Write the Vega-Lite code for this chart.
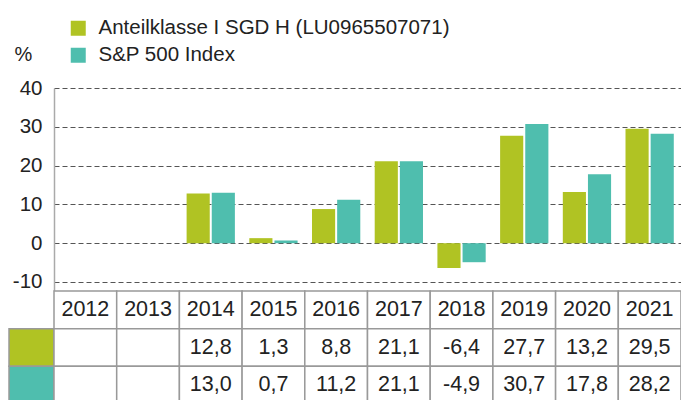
{
  "$schema": "https://vega.github.io/schema/vega-lite/v6.json",
  "padding": {"left": 8, "top": 4, "right": 0, "bottom": 0},
  "bounds": "flush",
  "columns": 2,
  "spacing": 0,
  "datasets": {
    "returns": [
      {"year": "2012", "series": "Anteilklasse I SGD H (LU0965507071)", "value": null},
      {"year": "2012", "series": "S&P 500 Index", "value": null},
      {"year": "2013", "series": "Anteilklasse I SGD H (LU0965507071)", "value": null},
      {"year": "2013", "series": "S&P 500 Index", "value": null},
      {"year": "2014", "series": "Anteilklasse I SGD H (LU0965507071)", "value": 12.8},
      {"year": "2014", "series": "S&P 500 Index", "value": 13.0},
      {"year": "2015", "series": "Anteilklasse I SGD H (LU0965507071)", "value": 1.3},
      {"year": "2015", "series": "S&P 500 Index", "value": 0.7},
      {"year": "2016", "series": "Anteilklasse I SGD H (LU0965507071)", "value": 8.8},
      {"year": "2016", "series": "S&P 500 Index", "value": 11.2},
      {"year": "2017", "series": "Anteilklasse I SGD H (LU0965507071)", "value": 21.1},
      {"year": "2017", "series": "S&P 500 Index", "value": 21.1},
      {"year": "2018", "series": "Anteilklasse I SGD H (LU0965507071)", "value": -6.4},
      {"year": "2018", "series": "S&P 500 Index", "value": -4.9},
      {"year": "2019", "series": "Anteilklasse I SGD H (LU0965507071)", "value": 27.7},
      {"year": "2019", "series": "S&P 500 Index", "value": 30.7},
      {"year": "2020", "series": "Anteilklasse I SGD H (LU0965507071)", "value": 13.2},
      {"year": "2020", "series": "S&P 500 Index", "value": 17.8},
      {"year": "2021", "series": "Anteilklasse I SGD H (LU0965507071)", "value": 29.5},
      {"year": "2021", "series": "S&P 500 Index", "value": 28.2}
    ],
    "years": [
      {"year": "2012"}, {"year": "2013"}, {"year": "2014"}, {"year": "2015"}, {"year": "2016"},
      {"year": "2017"}, {"year": "2018"}, {"year": "2019"}, {"year": "2020"}, {"year": "2021"}
    ],
    "series": [
      {"series": "Anteilklasse I SGD H (LU0965507071)"},
      {"series": "S&P 500 Index"}
    ]
  },
  "concat": [
    {
      "width": 45,
      "height": 10,
      "data": {"name": "series"},
      "mark": {"type": "point", "opacity": 0},
      "encoding": {}
    },
    {
      "width": 627,
      "height": 203,
      "data": {"name": "returns"},
      "transform": [{"filter": "isValid(datum.value)"}],
      "mark": {"type": "bar"},
      "encoding": {
        "x": {
          "field": "year", "type": "nominal",
          "scale": {"domain": ["2012","2013","2014","2015","2016","2017","2018","2019","2020","2021"], "paddingInner": 0.23, "paddingOuter": 0.115},
          "axis": null
        },
        "xOffset": {
          "field": "series", "type": "nominal",
          "scale": {"domain": ["Anteilklasse I SGD H (LU0965507071)", "S&P 500 Index"], "paddingInner": 0.08, "paddingOuter": 0}
        },
        "y": {
          "field": "value", "type": "quantitative",
          "scale": {"domain": [-12.32, 40], "nice": false, "zero": false},
          "axis": {
            "values": [-10, 0, 10, 20, 30, 40],
            "title": "%",
            "titleAngle": 0,
            "titleX": -40,
            "titleY": -34,
            "titleAlign": "left",
            "titleBaseline": "middle",
            "titleFontSize": 20,
            "titleFontWeight": "normal",
            "titleColor": "#222",
            "labelFontSize": 20.5,
            "labelColor": "#222",
            "labelPadding": 12,
            "ticks": false,
            "domainColor": "#aaa",
            "domainWidth": 1.5,
            "grid": true,
            "gridColor": "#555",
            "gridDash": [5, 3],
            "gridWidth": 1
          }
        },
        "color": {
          "field": "series", "type": "nominal",
          "scale": {"domain": ["Anteilklasse I SGD H (LU0965507071)", "S&P 500 Index"], "range": ["#b0c323", "#4fbeae"]},
          "legend": {
            "orient": "top",
            "direction": "vertical",
            "title": null,
            "symbolType": "square",
            "symbolSize": 225,
            "symbolStrokeWidth": 0,
            "labelFontSize": 20.5,
            "labelColor": "#222",
            "labelLimit": 0,
            "labelOffset": 10,
            "rowPadding": 6,
            "padding": 14,
            "offset": 8
          }
        }
      }
    },
    {
      "width": 45,
      "height": 113,
      "data": {"name": "series"},
      "mark": {"type": "rect", "stroke": "#999", "strokeWidth": 1.5},
      "encoding": {
        "y": {
          "field": "series", "type": "nominal",
          "scale": {"domain": ["Jahr", "Anteilklasse I SGD H (LU0965507071)", "S&P 500 Index"], "padding": 0},
          "axis": null
        },
        "color": {
          "field": "series", "type": "nominal",
          "scale": {"domain": ["Anteilklasse I SGD H (LU0965507071)", "S&P 500 Index"], "range": ["#b0c323", "#4fbeae"]},
          "legend": null
        }
      }
    },
    {
      "width": 627,
      "height": 113,
      "encoding": {
        "x": {
          "field": "year", "type": "nominal",
          "scale": {"domain": ["2012","2013","2014","2015","2016","2017","2018","2019","2020","2021"], "padding": 0},
          "axis": null
        }
      },
      "layer": [
        {
          "data": {"name": "years"},
          "mark": {"type": "rect", "fill": "white", "stroke": "#999", "strokeWidth": 1.5},
          "encoding": {
            "y": {"datum": "Jahr", "type": "nominal", "scale": {"domain": ["Jahr", "Anteilklasse I SGD H (LU0965507071)", "S&P 500 Index"], "padding": 0}, "axis": null}
          }
        },
        {
          "data": {"name": "returns"},
          "mark": {"type": "rect", "fill": "white", "stroke": "#999", "strokeWidth": 1.5},
          "encoding": {
            "y": {"field": "series", "type": "nominal", "axis": null}
          }
        },
        {
          "data": {"name": "years"},
          "mark": {"type": "text", "fontSize": 21.5, "color": "#222", "baseline": "middle", "align": "center"},
          "encoding": {
            "y": {"datum": "Jahr", "type": "nominal", "axis": null},
            "text": {"field": "year"}
          }
        },
        {
          "data": {"name": "returns"},
          "transform": [{"filter": "isValid(datum.value)"}],
          "mark": {"type": "text", "fontSize": 21.5, "color": "#222", "baseline": "middle", "align": "center"},
          "encoding": {
            "y": {"field": "series", "type": "nominal", "axis": null},
            "text": {"field": "value", "type": "quantitative", "format": ".1f"}
          }
        }
      ]
    }
  ],
  "resolve": {
    "scale": {"x": "independent", "y": "independent", "color": "independent", "xOffset": "independent"},
    "legend": {"color": "independent"}
  },
  "config": {
    "font": "Liberation Sans",
    "view": {"stroke": null},
    "locale": {"number": {"decimal": ",", "thousands": ".", "grouping": [3], "currency": ["", " €"], "minus": "-"}}
  }
}
